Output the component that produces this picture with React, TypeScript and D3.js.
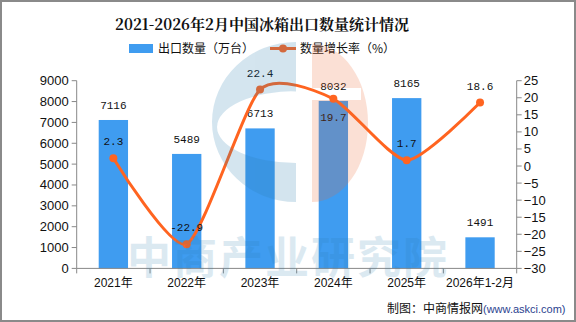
import React from 'react';
import * as d3 from 'd3';

const categories = ['2021年', '2022年', '2023年', '2024年', '2025年', '2026年1-2月'];
const exportVolume = [7116, 5489, 6713, 8032, 8165, 1491];
const growthRate = [2.3, -22.9, 22.4, 19.7, 1.7, 18.6];
const rateLabelSide = ['top', 'top', 'top', 'bottom', 'top', 'top'];
const leftTicks = [0, 1000, 2000, 3000, 4000, 5000, 6000, 7000, 8000, 9000];
const rightTicks = [-30, -25, -20, -15, -10, -5, 0, 5, 10, 15, 20, 25];

const W = 576;
const H = 322;
const M = { left: 76.7, right: 516.7, top: 80.7, bottom: 268.4 };
const BAR = '#3f9cf0';
const LINE = '#ff6420';
const AXIS = '#888888';
const TICKFONT = '"Liberation Sans", Arial, "Noto Sans CJK SC", sans-serif';
const LABELFONT = '"Liberation Mono", "DejaVu Sans Mono", monospace';

export default function App() {
  const x = d3.scaleBand<string>().domain(categories).range([M.left, M.right]).paddingInner(0).paddingOuter(0);
  const yL = d3.scaleLinear().domain([0, 9000]).range([M.bottom, M.top]);
  const yR = d3.scaleLinear().domain([-30, 25]).range([M.bottom, M.top]);
  const bw = x.bandwidth() * 0.4;
  const cx = (c: string) => (x(c) as number) + x.bandwidth() / 2;

  const pts: [number, number][] = categories.map((c, i) => [cx(c), yR(growthRate[i])]);
  const linePath = d3.line().curve(d3.curveCardinal.tension(0.35))(pts) || '';

  const fmtR = (v: number) => (v < 0 ? '\u2212' + Math.abs(v) : String(v));

  // watermark geometry
  const lcx = 296, lcy = 122;
  const outer = `M${lcx},${lcy - 80} A84,80 0 0 0 ${lcx},${lcy + 80} Z`;
  const inner = `M${lcx},${lcy - 31} A79,36 0 0 0 ${lcx},${lcy + 41} Z`;
  const orange = `M312,${lcy - 78} A56,79 0 0 1 312,${lcy + 80} Z M312,88 H361 V100 H312 Z`;

  return (
    <svg width={W} height={H} style={{ position: 'absolute', left: 0, top: 0, background: '#fff' }}>
      <rect x={0} y={0} width={W} height={H} fill="#fff" />
      {/* Title */}
      <text x={262} y={30} textAnchor="middle" fontFamily='"Noto Serif CJK SC","Noto Sans CJK SC",serif' fontWeight="bold" fontSize={15} fill="#111">
        2021-2026年2月中国冰箱出口数量统计情况
      </text>
      {/* Legend */}
      <rect x={129} y={44} width={24} height={9} fill={BAR} />
      <text x={158} y={53} fontFamily='"Noto Sans CJK SC", sans-serif' fontSize={12} fill="#111">出口数量（万台）</text>
      <line x1={270} x2={296} y1={48.5} y2={48.5} stroke={LINE} strokeWidth={3} />
      <circle cx={283} cy={48.5} r={4} fill={LINE} />
      <text x={300} y={53} fontFamily='"Noto Sans CJK SC", sans-serif' fontSize={12} fill="#111">数量增长率（%）</text>

      {/* Bars */}
      {categories.map((c, i) => (
        <rect key={c} x={cx(c) - bw / 2} y={yL(exportVolume[i])} width={bw} height={M.bottom - yL(exportVolume[i])} fill={BAR} />
      ))}
      {categories.map((c, i) => (
        <text key={'bl' + c} x={cx(c)} y={yL(exportVolume[i]) - 11} textAnchor="middle" fontFamily={LABELFONT} fontSize={11} fill="#111">
          {exportVolume[i]}
        </text>
      ))}

      {/* Axes */}
      <line x1={M.left} x2={M.left} y1={M.top} y2={M.bottom} stroke={AXIS} strokeWidth={1} />
      <line x1={M.right} x2={M.right} y1={M.top} y2={M.bottom} stroke={AXIS} strokeWidth={1} />
      <line x1={M.left} x2={M.right} y1={M.bottom} y2={M.bottom} stroke={AXIS} strokeWidth={1} />
      {leftTicks.map((t) => (
        <g key={'l' + t}>
          <line x1={M.left - 5} x2={M.left} y1={yL(t)} y2={yL(t)} stroke={AXIS} />
          <text x={M.left - 8} y={yL(t) + 4.5} textAnchor="end" fontFamily={TICKFONT} fontSize={13} fill="#111">{t}</text>
        </g>
      ))}
      {rightTicks.map((t) => (
        <g key={'r' + t}>
          <line x1={M.right} x2={M.right + 5} y1={yR(t)} y2={yR(t)} stroke={AXIS} />
          <text x={M.right + 7} y={yR(t) + 4.5} textAnchor="start" fontFamily={TICKFONT} fontSize={13} fill="#111">{fmtR(t)}</text>
        </g>
      ))}
      {[...categories.map((c) => x(c) as number), M.right].map((v, i) => (
        <line key={'xt' + i} x1={v} x2={v} y1={M.bottom} y2={M.bottom + 5} stroke={AXIS} />
      ))}
      {categories.map((c) => (
        <text key={'xl' + c} x={cx(c)} y={287} textAnchor="middle" fontFamily={TICKFONT} fontSize={12} fill="#111">{c}</text>
      ))}

      {/* Line */}
      <path d={linePath} fill="none" stroke={LINE} strokeWidth={3} />
      {pts.map((p, i) => (
        <circle key={'pt' + i} cx={p[0]} cy={p[1]} r={4} fill={LINE} />
      ))}
      {pts.map((p, i) => (
        <text key={'pl' + i} x={p[0]} y={rateLabelSide[i] === 'top' ? p[1] - 13 : p[1] + 22} textAnchor="middle" fontFamily={LABELFONT} fontSize={11} fill="#111">
          {growthRate[i]}
        </text>
      ))}

      {/* Watermark */}
      <g opacity={0.2} pointerEvents="none">
        <path d={outer + ' ' + inner} fill="rgb(40,125,175)" fillRule="evenodd" />
        <path d={orange} fill="rgb(240,105,50)" fillRule="evenodd" />
      </g>
      <text x={288} y={274} opacity={0.16} textAnchor="middle" fontFamily='"Noto Sans CJK SC", sans-serif' fontWeight="bold" fontSize={44} fill="rgb(40,125,175)" letterSpacing={2}>
        中商产业研究院
      </text>

      {/* Footer */}
      <text x={387} y={313} fontFamily='"Noto Sans CJK SC", sans-serif' fontSize={12} fill="#111">
        制图：中商情报网<tspan fontFamily={TICKFONT} fontSize={11} fill="#2b3f8f">(www.askci.com)</tspan>
      </text>

      {/* Border */}
      <rect x={1} y={1} width={W - 2} height={H - 2} fill="none" stroke="#8a8a8a" strokeWidth={2} />
    </svg>
  );
}
